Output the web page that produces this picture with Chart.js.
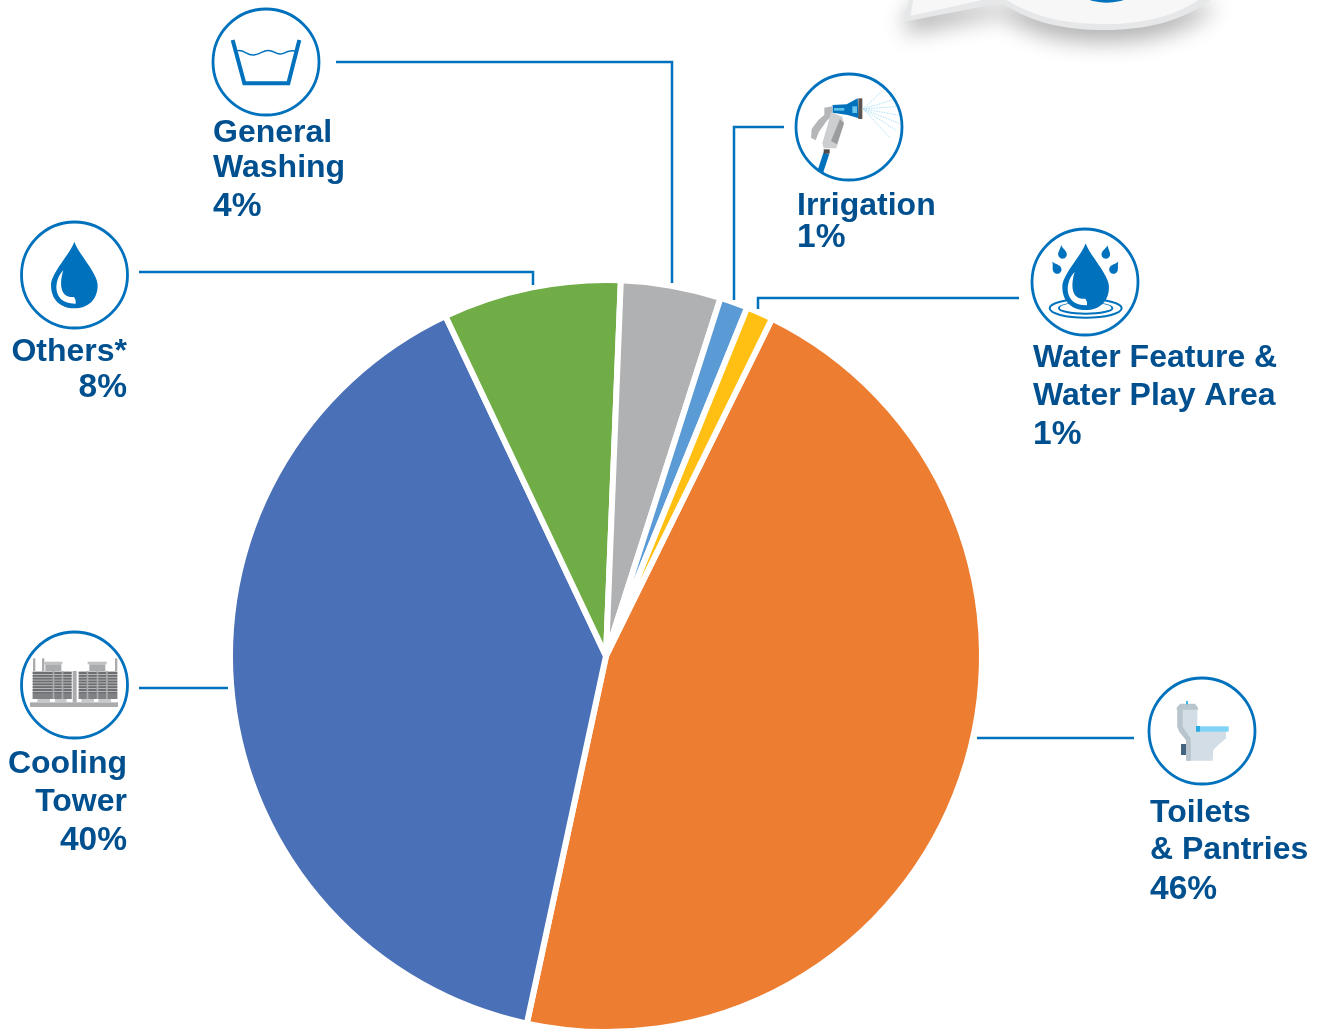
<!DOCTYPE html>
<html><head><meta charset="utf-8">
<style>html,body{margin:0;padding:0;background:#fff;overflow:hidden;width:1324px;height:1029px}canvas{display:block}</style>
<script src="https://cdn.jsdelivr.net/npm/chart.js@4/dist/chart.umd.min.js"></script>
</head><body><canvas id="c" width="1324" height="1100"></canvas>
<script>
const categories=["Toilets & Pantries","Cooling Tower","Others*","General Washing","Irrigation","Water Feature & Water Play Area"];
const shares=[46.1,39.6,7.65,4.3,1.2,1.15];
const sliceColors=["#ed7d31","#4a70b7","#70ad47","#b0b1b3","#5b9bd5","#ffc013"];
const INK="#00508f",LINE="#0071bc";

const textBlocks=[
 {x:213,align:"left",lines:[["General",142],["Washing",177],["4%",216]]},
 {x:797,align:"left",lines:[["Irrigation",215],["1%",247]]},
 {x:1033,align:"left",lines:[["Water Feature &",367],["Water Play Area",405],["1%",444]]},
 {x:127,align:"right",lines:[["Others*",361],["8%",397]]},
 {x:127,align:"right",lines:[["Cooling",773],["Tower",811],["40%",850]]},
 {x:1150,align:"left",lines:[["Toilets",822],["& Pantries",859],["46%",899]]}
];
const leaders=[
 [[336,62],[672,62],[672,283]],
 [[784,127],[734,127],[734,300]],
 [[1019,298],[758,298],[758,309]],
 [[139,272],[533,272],[533,285]],
 [[139,688],[228,688]],
 [[977,738],[1134,738]]
];
const rings=[[266,62],[849,127],[1085,282],[74.5,275],[74.5,685],[1202,731]];

function poly(c,p,fill){c.beginPath();p.forEach((q,i)=>i?c.lineTo(q[0],q[1]):c.moveTo(q[0],q[1]));c.closePath();c.fillStyle=fill;c.fill();}
function rect(c,x0,y0,x1,y1,f){c.fillStyle=f;c.fillRect(x0,y0,x1-x0,y1-y0);}
function zoomed(c,x,y,fn){c.save();c.translate(x,y);c.scale(1/3,1/3);fn();c.restore();}
function drop(c,cx,tip,cy,r){
 c.beginPath();c.moveTo(cx,tip);
 c.bezierCurveTo(cx+12,tip+36,cx+r,cy-36,cx+r,cy);
 c.bezierCurveTo(cx+r,cy+44,cx+42,cy+r,cx,cy+r);
 c.bezierCurveTo(cx-42,cy+r,cx-r,cy+44,cx-r,cy);
 c.bezierCurveTo(cx-r,cy-36,cx-12,tip+36,cx,tip);
 c.closePath();c.fillStyle=LINE;c.fill();
}
function crescent(c,dx,dy){
 c.beginPath();c.moveTo(160+dx,166+dy);
 c.bezierCurveTo(130+dx,195+dy,125+dx,268+dy,197+dx,266+dy);
 c.quadraticCurveTo(200+dx,256+dy,192+dx,246+dy);
 c.bezierCurveTo(155+dx,250+dy,145+dx,215+dy,160+dx,166+dy);
 c.closePath();c.fillStyle="#fff";c.fill();
}
function smallDrop(c,x,y,rot){
 c.save();c.translate(x,y);c.rotate(rot);c.beginPath();c.moveTo(0,-25);
 c.bezierCurveTo(3,-14,13,-6,13,3);c.arc(0,3,13,0,Math.PI);c.bezierCurveTo(-13,-6,-3,-14,0,-25);
 c.closePath();c.fillStyle=LINE;c.fill();c.restore();
}
function bubble(c){
 zoomed(c,880,0,()=>{
  const outer=new Path2D("M90,-20 L73,65 L365,8 C460,72 560,90 680,90 C800,90 930,60 1015,-20 Z");
  const inner=new Path2D("M103,-20 L92,47 L362,-12 C460,55 560,72 680,72 C800,72 900,45 985,-20 Z");
  c.save();c.shadowColor="rgba(0,0,0,0.30)";c.shadowBlur=22;c.shadowOffsetY=12;c.fillStyle="#e6e7e8";c.fill(outer);c.restore();
  c.fillStyle="#f7f7f8";c.fill(inner);
  c.beginPath();c.ellipse(680,-45,97,53,0,0,Math.PI*2);c.fillStyle=LINE;c.fill();
 });
}
function washIcon(c){
 zoomed(c,200,0,()=>{
  c.strokeStyle=LINE;c.lineWidth=12;c.lineJoin="miter";c.beginPath();c.moveTo(98,120);c.lineTo(133,250);c.lineTo(265,250);c.lineTo(298,120);c.stroke();
  c.lineWidth=4.5;c.beginPath();c.moveTo(112,152);c.bezierCurveTo(135,148,140,168,162,165);c.bezierCurveTo(185,162,190,148,210,152);c.bezierCurveTo(230,156,235,168,250,160);c.bezierCurveTo(262,153,272,150,285,153);c.stroke();
 });
}
function hoseIcon(c){
 zoomed(c,785,65,()=>{
  c.strokeStyle="#a6dcf5";c.lineWidth=2.5;c.setLineDash([5,3]);
  [[298,72],[322,105],[333,125],[340,150],[343,175],[332,195],[315,218]].forEach(e=>{c.beginPath();c.moveTo(234,132);c.lineTo(e[0],e[1]);c.stroke();});
  c.setLineDash([]);
  c.strokeStyle=LINE;c.lineWidth=18;c.beginPath();c.moveTo(124,265);c.lineTo(106,320);c.stroke();
  rect(c,116,253,134,266,"#4f4c4a");
  poly(c,[[118,128],[142,124],[142,150],[125,168],[102,200],[92,226],[78,218],[80,192],[100,165],[118,150]],"#b5b6b8");
  poly(c,[[138,142],[172,155],[177,175],[154,250],[116,250],[112,234],[128,180]],"#cdced0");
  poly(c,[[165,162],[177,175],[156,238],[138,228]],"#9b9c9e");
  poly(c,[[143,120],[185,118],[218,100],[222,160],[188,150],[143,143]],LINE);
  rect(c,147,129,178,137,"#5bc2e7");
  rect(c,202,124,216,144,"#6cc5ea");
  rect(c,220,100,232,162,"#5c5450");
 });
}
function featureIcon(c){
 zoomed(c,1020,220,()=>{
  c.strokeStyle=LINE;c.lineWidth=6;
  c.beginPath();c.ellipse(197,265,108,28,0,0,Math.PI*2);c.stroke();
  c.beginPath();c.ellipse(197,265,80,16,0,0,Math.PI*2);c.stroke();
  c.beginPath();c.ellipse(197,262,76,14,0,0,Math.PI*2);c.fillStyle="#fff";c.fill();
  drop(c,197,70,200,70);crescent(c,4,-10);
  smallDrop(c,127,100,-0.15);smallDrop(c,110,146,-0.55);smallDrop(c,258,100,0.2);smallDrop(c,282,146,0.55);
 });
}
function othersIcon(c){
 zoomed(c,10,215,()=>{drop(c,193,80,210,70);crescent(c,0,0);});
}
function coolingIcon(c){
 zoomed(c,10,625,()=>{
  const g="#aaabad",d="#6d6e71";
  rect(c,60,232,324,246,g);
  [[82,120],[135,170],[214,252],[265,303]].forEach(f=>rect(c,f[0],222,f[1],232,"#c8c9cb"));
  rect(c,188,138,200,232,g);
  [[68,185,[128,155]],[206,322,[230,260,288]]].forEach(t=>{
   const [a,b,gaps]=t;
   rect(c,a,138,b,222,"#c5c6c8");
   for(let y=141;y<203;y+=8.5)rect(c,a,y,b,y+6,d);
   rect(c,a,207,b,222,"#808184");
   gaps.forEach(x=>rect(c,x,138,x+5,222,g));
  });
  rect(c,103,110,157,118,"#c0c1c3");rect(c,106,118,154,138,g);
  rect(c,233,110,290,118,"#c0c1c3");rect(c,238,118,286,138,g);
  rect(c,69,100,76,138,g);rect(c,96,100,103,138,g);rect(c,315,100,322,138,g);
 });
}
function toiletIcon(c){
 zoomed(c,1140,670,()=>{
  rect(c,123,222,138,255,"#44647f");
  poly(c,[[112,115],[172,115],[172,172],[258,180],[258,205],[235,225],[220,240],[218,272],[138,272],[138,210],[118,185],[112,170]],"#d3dde5");
  poly(c,[[112,115],[128,115],[128,170],[152,205],[153,272],[138,272],[138,210],[118,185],[112,170]],"#b9c5cc");
  poly(c,[[120,101],[165,101],[174,113],[174,119],[110,119],[110,113]],"#b9c5cc");
  rect(c,138,93,144,103,"#3db5e6");
  rect(c,172,169,266,185,"#7fd3f5");
  rect(c,168,168,180,185,"#29abe2");
 });
}
const decor={id:"decor",afterDraw(chart){
 const c=chart.ctx;c.save();
 bubble(c);
 c.strokeStyle=LINE;c.lineWidth=2.5;c.lineJoin="miter";
 leaders.forEach(l=>{c.beginPath();l.forEach((p,i)=>i?c.lineTo(p[0],p[1]):c.moveTo(p[0],p[1]));c.stroke();});
 rings.forEach(r=>{c.beginPath();c.arc(r[0],r[1],53,0,Math.PI*2);c.strokeStyle=LINE;c.lineWidth=2.8;c.stroke();});
 washIcon(c);hoseIcon(c);featureIcon(c);othersIcon(c);coolingIcon(c);toiletIcon(c);
 c.fillStyle=INK;c.textBaseline="alphabetic";
 textBlocks.forEach(b=>{c.textAlign=b.align;b.lines.forEach(l=>{
  c.font=(l[0].endsWith("%")?"bold 33.5px":"bold 32px")+' "Liberation Sans",Arial,sans-serif';
  c.fillText(l[0],b.x,l[1]);});});
 c.restore();
}};
new Chart(document.getElementById("c"),{
 type:"pie",
 data:{labels:categories,datasets:[{data:shares,backgroundColor:sliceColors,borderColor:"#fff",borderWidth:6}]},
 options:{responsive:false,animation:false,rotation:26.2,
  layout:{padding:{left:227,right:339,top:277,bottom:65}},
  plugins:{legend:{display:false},tooltip:{enabled:false}}},
 plugins:[decor]
});
</script></body></html>
